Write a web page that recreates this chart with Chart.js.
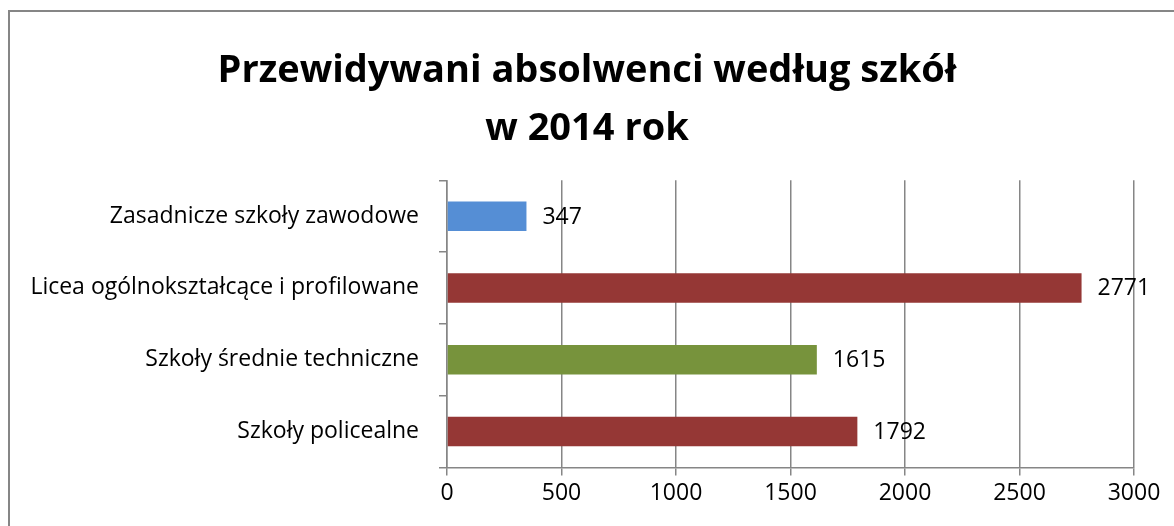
<!DOCTYPE html>
<html>
<head>
<meta charset="utf-8">
<script src="https://cdn.jsdelivr.net/npm/chart.js@4/dist/chart.umd.min.js"></script>
<style>
  html, body { margin: 0; padding: 0; background: #fff; }
  #frame {
    position: absolute; left: 8px; top: 10px; width: 1300px; height: 700px;
    border-left: 2px solid #868686; border-top: 2px solid #868686;
  }
  #wrap { position: absolute; left: 0; top: 0; width: 1174px; height: 526px; }
</style>
</head>
<body>
<div id="frame"></div>
<div id="wrap"><canvas id="schoolChart"></canvas></div>
<script>
const categories = [
  "Zasadnicze szkoły zawodowe",
  "Licea ogólnokształcące i profilowane",
  "Szkoły średnie techniczne",
  "Szkoły policealne",
];
const graduates = [347, 2771, 1615, 1792];
const barColors = ["#558ed5", "#953735", "#77933c", "#953735"];
const xTicks = [0, 500, 1000, 1500, 2000, 2500, 3000];

const gridColor = "#868686";
const fontFamily = "'Open Sans', 'Liberation Sans', sans-serif";
const labelSize = 23;

// draws the value next to each bar
const valueLabels = {
  id: "valueLabels",
  afterDatasetsDraw(chart) {
    const ctx = chart.ctx;
    const meta = chart.getDatasetMeta(0);
    ctx.save();
    ctx.font = labelSize + "px " + fontFamily;
    ctx.fillStyle = "#000";
    ctx.textBaseline = "middle";
    meta.data.forEach((bar, i) => {
      ctx.fillText(String(graduates[i]), bar.x + 16, bar.y + 1);
    });
    ctx.restore();
  },
};

const ctx = document.getElementById("schoolChart").getContext("2d");
const schoolChart = new Chart(ctx, {
  type: "bar",
  data: {
    labels: categories,
    datasets: [
      {
        data: graduates,
        backgroundColor: barColors,
        borderWidth: 0,
        barPercentage: 0.41,
        categoryPercentage: 1,
      },
    ],
  },
  options: {
    indexAxis: "y",
    responsive: true,
    maintainAspectRatio: false,
    animation: false,
    layout: { padding: { left: 15, right: 15, top: 0, bottom: 15 } },
    plugins: {
      legend: { display: false },
      tooltip: { enabled: false },
      title: {
        display: true,
        text: ["Przewidywani absolwenci według szkół", "w 2014 rok"],
        color: "#000",
        font: { family: fontFamily, size: 38, weight: "bold", lineHeight: 1.53 },
        padding: { top: 42, bottom: 22 },
      },
    },
    scales: {
      x: {
        min: 0,
        max: 3000,
        afterBuildTicks: (axis) => {
          axis.ticks = xTicks.map((v) => ({ value: v }));
        },
        grid: { color: gridColor, lineWidth: 1.5, tickLength: 8 },
        border: { color: gridColor, width: 1.5 },
        ticks: {
          color: "#000",
          padding: 4,
          font: { family: fontFamily, size: labelSize },
          callback: (v) => String(v),
        },
      },
      y: {
        afterFit: (axis) => {
          axis.width = 432;
        },
        grid: { offset: true, drawOnChartArea: false, color: gridColor, lineWidth: 1.5, tickLength: 8 },
        border: { color: gridColor, width: 1.5 },
        ticks: { color: "#000", padding: 20, font: { family: fontFamily, size: labelSize } },
      },
      // empty spacer on the right so the title stays centred on the frame
      y2: {
        position: "right",
        afterFit: (axis) => {
          axis.width = 25;
        },
        grid: { display: false },
        border: { display: false },
        ticks: { display: false },
      },
    },
  },
  plugins: [valueLabels],
});
</script>
</body>
</html>
